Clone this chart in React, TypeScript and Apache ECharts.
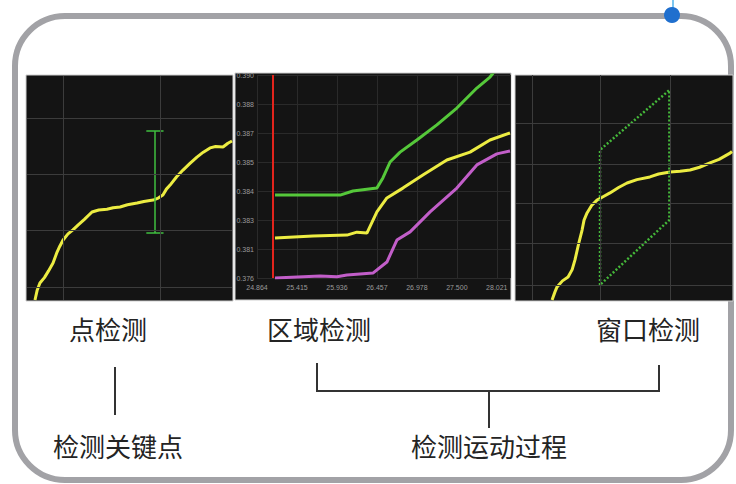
import React, { useEffect, useRef } from "react";
import * as echarts from "echarts";

// ---- Panel 1 (点检测) ----
const p1Curve: number[][] = [
  [0.39, 0], [0.5, 0.45], [0.63, 0.76], [0.85, 1.0], [1.05, 1.3], [1.27, 1.65], [1.45, 2.1],
  [1.6, 2.4], [1.76, 2.68], [2.0, 2.95], [2.24, 3.13], [2.5, 3.35], [2.8, 3.6], [3.17, 3.93],
  [3.5, 4.02], [3.9, 4.05], [4.2, 4.12], [4.54, 4.15], [4.9, 4.25], [5.37, 4.33], [5.7, 4.4],
  [6.15, 4.46], [6.4, 4.55], [6.63, 4.69], [6.8, 4.95], [6.98, 5.13], [7.3, 5.5], [7.61, 5.8],
  [7.95, 6.1], [8.29, 6.38], [8.6, 6.6], [8.93, 6.79], [9.2, 6.85], [9.56, 6.83], [9.8, 7.0], [10, 7.1],
];
const p1GridX = [1.76, 6.49];
const p1GridY = [0.58, 3.13, 5.63, 8.13];
const p1ErrX = 6.24;
const p1ErrLow = 2.99;
const p1ErrHigh = 7.54;
const p1ErrCap = 0.42;

// ---- Panel 2 (区域检测) ----
const p2XLabels = ["24.864", "25.415", "25.936", "26.457", "26.978", "27.500", "28.021"];
const p2YLabels = ["0.376", "0.381", "0.383", "0.384", "0.385", "0.387", "0.388", "0.390"];
const p2Marker = 0.4;
const p2Green: number[][] = [
  [0.45, 2.86], [1.2, 2.86], [2.08, 2.86], [2.4, 3.0], [2.7, 3.05], [3.0, 3.1], [3.15, 3.45],
  [3.33, 4.0], [3.58, 4.34], [4.0, 4.76], [4.5, 5.28], [5.0, 5.86], [5.5, 6.55], [5.83, 6.93], [6.1, 7.4],
];
const p2Yellow: number[][] = [
  [0.45, 1.38], [1.4, 1.45], [2.25, 1.48], [2.5, 1.58], [2.75, 1.55], [3.0, 2.28], [3.25, 2.76],
  [3.65, 3.1], [4.15, 3.55], [4.75, 4.07], [5.33, 4.34], [5.83, 4.76], [6.33, 5.0],
];
const p2Purple: number[][] = [
  [0.45, 0.0], [1.58, 0.07], [2.0, 0.04], [2.25, 0.1], [2.9, 0.17], [3.25, 0.55], [3.5, 1.31],
  [3.83, 1.59], [4.33, 2.28], [5.0, 3.1], [5.5, 3.9], [6.0, 4.28], [6.33, 4.38],
];

// ---- Panel 3 (窗口检测) ----
const p3Curve: number[][] = [
  [1.67, 0], [1.8, 0.35], [1.9, 0.58], [2.15, 0.85], [2.41, 1.02], [2.6, 1.35], [2.73, 1.78],
  [2.9, 2.5], [3.06, 3.11], [3.15, 3.55], [3.29, 3.87], [3.5, 4.2], [3.75, 4.44], [4.05, 4.6],
  [4.35, 4.76], [4.75, 5.0], [5.14, 5.2], [5.6, 5.35], [6.2, 5.47], [6.6, 5.6], [7.13, 5.69],
  [7.6, 5.72], [8.06, 5.78], [8.5, 5.9], [8.98, 6.09], [9.4, 6.25], [9.91, 6.53], [10, 6.6],
];
const p3GridX = [0.74, 3.89, 7.13];
const p3GridY = [0.67, 2.53, 4.31, 6.04, 7.87];
const p3Window: number[][] = [[3.89, 0.67], [3.89, 6.67], [7.1, 9.33], [7.1, 3.56], [3.89, 0.67]];

// ---- Labels ----
const panelTitles = ["点检测", "区域检测", "窗口检测"];
const groupTitles = ["检测关键点", "检测运动过程"];

const YELLOW = "#ecec42";
const GRIDC = "#3c3c3c";
const PANEL = "#141414";
const CJK = '"Noto Sans CJK SC", "Noto Sans", sans-serif';

export default function App() {
  const ref = useRef<HTMLDivElement>(null);
  useEffect(() => {
    if (!ref.current) return;
    const chart = echarts.init(ref.current, undefined, { renderer: "svg" });

    const gridMark = (xs: number[], ys: number[]) => ({
      silent: true,
      symbol: ["none", "none"],
      label: { show: false },
      lineStyle: { color: GRIDC, width: 1, type: "solid" },
      data: [...xs.map((v) => ({ xAxis: v })), ...ys.map((v) => ({ yAxis: v }))],
    });

    const hiddenAxis = (gi: number) => ({
      type: "value",
      gridIndex: gi,
      min: 0,
      max: 10,
      show: false,
    });

    const text = (t: string, x: number, y: number) => ({
      type: "text",
      x,
      y,
      z: 10,
      style: {
        text: t,
        fill: "#242424",
        font: `normal 26px ${CJK}`,
        textAlign: "center",
        textVerticalAlign: "middle",
      },
    });

    const seg = (x1: number, y1: number, x2: number, y2: number) => ({
      type: "line",
      z: 10,
      shape: { x1, y1, x2, y2 },
      style: { stroke: "#333", lineWidth: 2 },
    });

    const option: any = {
      animation: false,
      backgroundColor: "#fff",
      grid: [
        { left: 27, top: 76, width: 205, height: 224 },
        { left: 257, top: 75, width: 253, height: 203 },
        { left: 516, top: 75, width: 216, height: 225 },
      ],
      xAxis: [
        hiddenAxis(0),
        {
          type: "value",
          gridIndex: 1,
          min: 0,
          max: 6.33,
          interval: 1,
          axisLine: { show: false },
          axisTick: { show: false },
          splitLine: { show: true, lineStyle: { color: "#2a2a2a", width: 1 } },
          axisLabel: {
            fontSize: 7,
            color: "#9a9a9a",
            margin: 6,
            showMaxLabel: false,
            formatter: (v: number) => p2XLabels[Math.round(v)] ?? "",
          },
        },
        hiddenAxis(2),
      ],
      yAxis: [
        hiddenAxis(0),
        {
          type: "value",
          gridIndex: 1,
          min: 0,
          max: 7,
          interval: 1,
          axisLine: { show: false },
          axisTick: { show: false },
          splitLine: { show: true, lineStyle: { color: "#2a2a2a", width: 1 } },
          axisLabel: {
            fontSize: 7,
            color: "#9a9a9a",
            margin: 3,
            formatter: (v: number) => p2YLabels[Math.round(v)] ?? "",
          },
        },
        hiddenAxis(2),
      ],
      series: [
        // panel 1
        {
          type: "line", xAxisIndex: 0, yAxisIndex: 0, data: [], z: 1, silent: true,
          markLine: gridMark(p1GridX, p1GridY),
        },
        {
          type: "line", xAxisIndex: 0, yAxisIndex: 0, data: p1Curve, showSymbol: false,
          lineStyle: { color: YELLOW, width: 3 }, z: 3,
        },
        {
          type: "lines", coordinateSystem: "cartesian2d", xAxisIndex: 0, yAxisIndex: 0, z: 4,
          lineStyle: { color: "#3fbf3f", width: 1.5, opacity: 1 },
          data: [
            { coords: [[p1ErrX, p1ErrLow], [p1ErrX, p1ErrHigh]] },
            { coords: [[p1ErrX - p1ErrCap, p1ErrLow], [p1ErrX + p1ErrCap, p1ErrLow]] },
            { coords: [[p1ErrX - p1ErrCap, p1ErrHigh], [p1ErrX + p1ErrCap, p1ErrHigh]] },
          ],
        },
        // panel 2
        {
          type: "line", xAxisIndex: 1, yAxisIndex: 1, data: [], z: 1, silent: true,
          markLine: {
            silent: true, symbol: ["none", "none"], label: { show: false },
            lineStyle: { color: "#e3241c", width: 2, type: "solid" },
            data: [{ xAxis: p2Marker }],
          },
        },
        {
          type: "line", xAxisIndex: 1, yAxisIndex: 1, data: p2Green, showSymbol: false,
          lineStyle: { color: "#55c83a", width: 3 },
        },
        {
          type: "line", xAxisIndex: 1, yAxisIndex: 1, data: p2Yellow, showSymbol: false,
          lineStyle: { color: YELLOW, width: 3 },
        },
        {
          type: "line", xAxisIndex: 1, yAxisIndex: 1, data: p2Purple, showSymbol: false,
          lineStyle: { color: "#c25ec9", width: 3 },
        },
        // panel 3
        {
          type: "line", xAxisIndex: 2, yAxisIndex: 2, data: [], z: 1, silent: true,
          markLine: gridMark(p3GridX, p3GridY),
        },
        {
          type: "line", xAxisIndex: 2, yAxisIndex: 2, data: p3Curve, showSymbol: false,
          lineStyle: { color: YELLOW, width: 3 }, z: 3,
        },
        {
          type: "lines", coordinateSystem: "cartesian2d", xAxisIndex: 2, yAxisIndex: 2, z: 4,
          polyline: true,
          lineStyle: { color: "#45b83a", width: 2.5, type: [2, 2], opacity: 1 },
          data: [{ coords: p3Window }],
        },
      ],
      graphic: [
        {
          type: "rect", z: -10,
          shape: { x: 15, y: 16, width: 716, height: 464, r: 50 },
          style: { fill: "#fff", stroke: "#a2a2a6", lineWidth: 6 },
        },
        { type: "line", z: -9, shape: { x1: 673, y1: 0, x2: 673, y2: 8 }, style: { stroke: "#7cc6f0", lineWidth: 2 } },
        { type: "circle", z: -9, shape: { cx: 672, cy: 15, r: 8 }, style: { fill: "#1f6fce" } },
        { type: "rect", z: -5, shape: { x: 26, y: 75, width: 207, height: 226 }, style: { fill: PANEL, stroke: "#cfcfcf", lineWidth: 1 } },
        { type: "rect", z: -5, shape: { x: 235, y: 73, width: 276, height: 227 }, style: { fill: PANEL, stroke: "#cfcfcf", lineWidth: 1 } },
        { type: "rect", z: -5, shape: { x: 515, y: 75, width: 218, height: 226 }, style: { fill: PANEL, stroke: "#cfcfcf", lineWidth: 1 } },
        text(panelTitles[0], 108, 328),
        text(panelTitles[1], 319, 328),
        text(panelTitles[2], 648, 328),
        text(groupTitles[0], 118, 445),
        text(groupTitles[1], 489, 445),
        seg(115, 367, 115, 415),
        seg(317, 363, 317, 391),
        seg(316, 391, 660, 391),
        seg(659, 365, 659, 391),
        seg(489, 391, 489, 428),
      ],
    };
    chart.setOption(option);
    return () => chart.dispose();
  }, []);
  return (
    <div
      ref={ref}
      style={{ position: "fixed", left: 0, top: 0, width: 736, height: 484, background: "#fff" }}
    />
  );
}
